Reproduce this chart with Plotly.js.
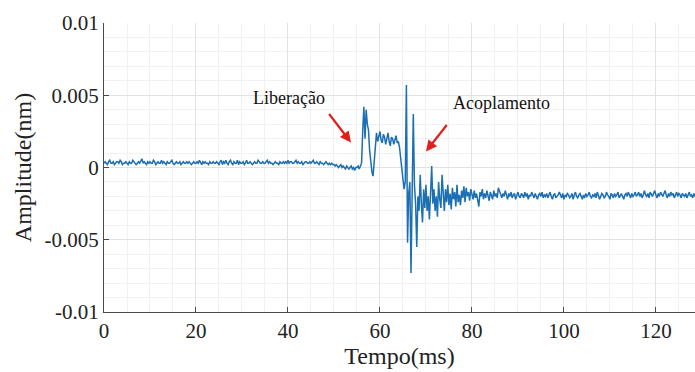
<!DOCTYPE html>
<html>
<head>
<meta charset="utf-8">
<script src="https://cdn.plot.ly/plotly-3.0.1.min.js"></script>
<style>html,body{margin:0;padding:0;background:#fff;}#chart{width:695px;height:372px;}</style>
</head>
<body>
<div id="chart"></div>
<script>
// sampling of the recorded signal (ms)
const timeStartMs = 0;
const sampleStepMs = 0.25;

// amplitude in nm, one value per 0.25 ms from 0 to 128.5 ms
const amplitude = [
// 0–4.75
3e-4,4e-4,3e-4,2e-4,4e-4,5e-4,3e-4,3e-4,4e-4,2e-4,3e-4,4e-4,4e-4,3e-4,5e-4,4e-4,2e-4,3e-4,3e-4,4e-4,
// 5–9.75
3e-4,2e-4,4e-4,3e-4,3e-4,5e-4,4e-4,3e-4,2e-4,3e-4,4e-4,3e-4,5e-4,6e-4,3e-4,4e-4,3e-4,2e-4,4e-4,3e-4,
// 10–14.75
4e-4,3e-4,3e-4,5e-4,4e-4,2e-4,3e-4,4e-4,3e-4,3e-4,5e-4,3e-4,4e-4,3e-4,2e-4,4e-4,3e-4,3e-4,4e-4,5e-4,
// 15–19.75
3e-4,2e-4,3e-4,4e-4,3e-4,3e-4,4e-4,2e-4,3e-4,4e-4,3e-4,3e-4,4e-4,3e-4,4e-4,3e-4,2e-4,3e-4,4e-4,3e-4,
// 20–24.75
3e-4,4e-4,3e-4,5e-4,3e-4,2e-4,4e-4,3e-4,4e-4,3e-4,3e-4,2e-4,4e-4,3e-4,3e-4,4e-4,3e-4,3e-4,4e-4,3e-4,
// 25–29.75
2e-4,4e-4,5e-4,2e-4,4e-4,3e-4,5e-4,3e-4,2e-4,4e-4,5e-4,3e-4,2e-4,4e-4,3e-4,3e-4,5e-4,2e-4,4e-4,3e-4,
// 30–34.75
3e-4,4e-4,2e-4,3e-4,5e-4,3e-4,3e-4,4e-4,3e-4,2e-4,3e-4,4e-4,3e-4,3e-4,5e-4,4e-4,3e-4,3e-4,4e-4,3e-4,
// 35–39.75
3e-4,4e-4,5e-4,3e-4,4e-4,3e-4,3e-4,2e-4,3e-4,4e-4,3e-4,3e-4,2e-4,4e-4,3e-4,3e-4,4e-4,3e-4,4e-4,3e-4,
// 40–44.75
5e-4,3e-4,4e-4,4e-4,3e-4,3e-4,4e-4,5e-4,3e-4,4e-4,3e-4,3e-4,4e-4,2e-4,3e-4,4e-4,4e-4,3e-4,3e-4,4e-4,
// 45–49.75
3e-4,4e-4,5e-4,3e-4,3e-4,4e-4,3e-4,2e-4,4e-4,3e-4,3e-4,2e-4,3e-4,4e-4,3e-4,2e-4,3e-4,2e-4,3e-4,2e-4,
// 50–54.75
2e-4,1e-4,2e-4,1e-4,0,1e-4,2e-4,0,1e-4,0,-1e-4,1e-4,0,-1e-4,0,1e-4,-1e-4,0,-2e-4,0,
// 55–55.75
0,1e-4,-1e-4,2e-4,
// 56–57.75 (release)
3e-4,25e-4,42e-4,20e-4,40e-4,30e-4,26e-4,12e-4,
// 58–59.75
2e-4,-3e-4,-6e-4,5e-4,20e-4,24e-4,18e-4,22e-4,
// 60–61.75
25e-4,19e-4,17e-4,23e-4,21e-4,16e-4,20e-4,24e-4,
// 62–63.75
18e-4,15e-4,21e-4,20e-4,16e-4,19e-4,22e-4,17e-4,
// 64–65.75
18e-4,14e-4,5e-4,-4e-4,-8e-4,-15e-4,-10e-4,57e-4,
// 66–67.75 (coupling)
-52e-4,-18e-4,-10e-4,-73e-4,-20e-4,37e-4,-12e-4,-25e-4,
// 68–68.75
-55e-4,-20e-4,-30e-4,-5e-4,
// 69–72.75
-25e-4,-38e-4,-15e-4,-28e-4,-12e-4,-30e-4,-20e-4,-36e-4,-18e-4,1e-4,-25e-4,-15e-4,-30e-4,-20e-4,-34e-4,-10e-4,
// 73–77.75
-22e-4,-28e-4,-5e-4,-18e-4,-30e-4,-15e-4,-24e-4,-12e-4,-26e-4,-18e-4,-29e-4,-14e-4,-22e-4,-17e-4,-27e-4,-12e-4,-24e-4,-19e-4,-26e-4,-16e-4,
// 78–82.75
-21e-4,-13e-4,-24e-4,-14e-4,-20e-4,-17e-4,-23e-4,-15e-4,-19e-4,-22e-4,-16e-4,-21e-4,-18e-4,-24e-4,-27e-4,-17e-4,-20e-4,-15e-4,-22e-4,-18e-4,
// 83–85.75
-21e-4,-16e-4,-20e-4,-23e-4,-17e-4,-19e-4,-22e-4,-16e-4,-20e-4,-18e-4,-21e-4,-14e-4,
// 86–90.75
-17e-4,-19e-4,-21e-4,-18e-4,-20e-4,-16e-4,-19e-4,-22e-4,-18e-4,-20e-4,-17e-4,-21e-4,-19e-4,-18e-4,-22e-4,-19e-4,-17e-4,-20e-4,-21e-4,-18e-4,
// 91–95.75
-19e-4,-21e-4,-17e-4,-20e-4,-18e-4,-22e-4,-19e-4,-20e-4,-17e-4,-19e-4,-21e-4,-18e-4,-20e-4,-22e-4,-19e-4,-18e-4,-20e-4,-17e-4,-21e-4,-19e-4,
// 96–100.75
-20e-4,-18e-4,-21e-4,-19e-4,-17e-4,-20e-4,-22e-4,-19e-4,-18e-4,-21e-4,-20e-4,-19e-4,-17e-4,-20e-4,-21e-4,-18e-4,-22e-4,-19e-4,-20e-4,-18e-4,
// 101–105.75
-19e-4,-21e-4,-20e-4,-18e-4,-22e-4,-19e-4,-17e-4,-20e-4,-21e-4,-19e-4,-18e-4,-20e-4,-22e-4,-19e-4,-21e-4,-18e-4,-20e-4,-19e-4,-17e-4,-20e-4,
// 106–110.75
-21e-4,-19e-4,-20e-4,-18e-4,-21e-4,-17e-4,-19e-4,-22e-4,-20e-4,-18e-4,-19e-4,-21e-4,-20e-4,-17e-4,-19e-4,-20e-4,-22e-4,-18e-4,-19e-4,-21e-4,
// 111–115.75
-18e-4,-20e-4,-19e-4,-17e-4,-21e-4,-19e-4,-18e-4,-20e-4,-22e-4,-19e-4,-18e-4,-20e-4,-17e-4,-19e-4,-21e-4,-18e-4,-20e-4,-19e-4,-17e-4,-20e-4,
// 116–120.75
-19e-4,-17e-4,-20e-4,-18e-4,-21e-4,-19e-4,-16e-4,-19e-4,-20e-4,-18e-4,-21e-4,-17e-4,-19e-4,-20e-4,-18e-4,-16e-4,-19e-4,-21e-4,-18e-4,-20e-4,
// 121–125.75
-17e-4,-19e-4,-20e-4,-18e-4,-16e-4,-19e-4,-21e-4,-18e-4,-20e-4,-17e-4,-19e-4,-18e-4,-21e-4,-19e-4,-17e-4,-20e-4,-18e-4,-19e-4,-21e-4,-18e-4,
// 126–128.5
-19e-4,-20e-4,-18e-4,-21e-4,-19e-4,-17e-4,-20e-4,-19e-4,-21e-4,-18e-4,-20e-4
];

// axis ticks
const xTickValues = [0, 20, 40, 60, 80, 100, 120];
const yTickValues = [-0.01, -0.005, 0, 0.005, 0.01];
const yTickLabels = ['-0.01', '-0.005', '0', '0.005', '0.01'];

// annotation labels and where their arrows point (ms, nm)
const labelTexts = ['Liberação', 'Acoplamento'];
const labelPositions = [[40.2, 0.00484], [86.5, 0.00443]];
const arrowTargets = [[53.7, 0.00173], [70.0, 0.00111]];
const arrowOffsets = [[-23, -30], [22, -28]];

const serif = '"Liberation Serif", "Times New Roman", serif';
const axisColor = '#4a4a4a';

const trace = {
  type: 'scatter',
  mode: 'lines',
  x0: timeStartMs,
  dx: sampleStepMs,
  y: amplitude,
  line: {color: '#1c6fb3', width: 1.5},
  hoverinfo: 'skip'
};

const annotations = [];
labelTexts.forEach((t, i) => {
  annotations.push({
    x: labelPositions[i][0], y: labelPositions[i][1], xref: 'x', yref: 'y',
    text: t, showarrow: false,
    font: {family: serif, size: 18, color: '#111'}
  });
  annotations.push({
    x: arrowTargets[i][0], y: arrowTargets[i][1], xref: 'x', yref: 'y',
    ax: arrowOffsets[i][0], ay: arrowOffsets[i][1],
    text: '', showarrow: true,
    arrowhead: 2, arrowsize: 1, arrowwidth: 2.2, arrowcolor: '#e0201c'
  });
});

const layout = {
  width: 695, height: 372,
  margin: {l: 104, r: 0, t: 23, b: 60},
  paper_bgcolor: '#ffffff',
  plot_bgcolor: '#ffffff',
  showlegend: false,
  font: {family: serif, color: '#222'},
  xaxis: {
    range: [0, 128.5],
    tickvals: xTickValues,
    ticks: 'inside', ticklen: 5, tickcolor: axisColor,
    showline: true, linecolor: axisColor, linewidth: 1,
    showgrid: true, gridcolor: '#e2e2e2', gridwidth: 1,
    minor: {dtick: 5, tick0: 0, showgrid: true, gridcolor: '#f1f1f1', gridwidth: 1},
    zeroline: false,
    tickfont: {family: serif, size: 21, color: '#222'},
    title: {text: 'Tempo(ms)', font: {family: serif, size: 24, color: '#222'}, standoff: 2},
    automargin: false
  },
  yaxis: {
    range: [-0.01, 0.01],
    tickvals: yTickValues,
    ticktext: yTickLabels,
    ticks: 'inside', ticklen: 5, tickcolor: axisColor,
    showline: true, linecolor: axisColor, linewidth: 1,
    showgrid: true, gridcolor: '#e2e2e2', gridwidth: 1,
    minor: {dtick: 0.001, tick0: 0, showgrid: true, gridcolor: '#f1f1f1', gridwidth: 1},
    zeroline: false,
    tickfont: {family: serif, size: 21, color: '#222'},
    title: {text: 'Amplitude(nm)', font: {family: serif, size: 24, color: '#222'}, standoff: 6},
    automargin: false
  },
  annotations: annotations
};

Plotly.newPlot('chart', [trace], layout, {staticPlot: true, displayModeBar: false});
</script>
</body>
</html>
